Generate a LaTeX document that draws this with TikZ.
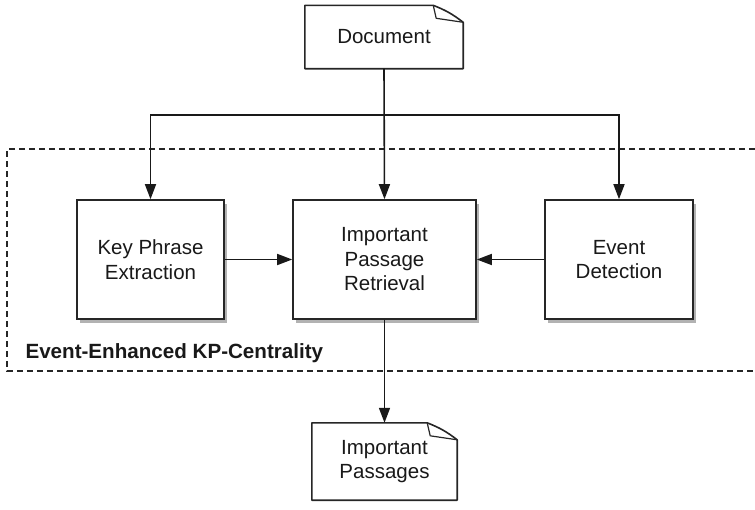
\documentclass[tikz,border=0pt]{standalone}
\usepackage{fontspec}
\setmainfont{Liberation Sans}
\usetikzlibrary{arrows.meta,shadows,backgrounds}
\begin{document}
\begin{tikzpicture}[x=1pt,y=1pt,
  every node/.style={font=\fontsize{20.5}{24.5}\selectfont,text=black!90},
  procbox/.style={draw=black!85,line width=1.6pt,fill=white,align=center,inner sep=0pt,
    drop shadow={shadow xshift=2.5pt,shadow yshift=-3.5pt,opacity=.3,fill=black}},
  docbox/.style={draw=none,align=center,inner sep=0pt},
  arr/.style={line width=1.6pt,draw=black!90,-{Triangle[length=15pt,width=11pt]}},
  region/.style={line width=1.2pt,draw=black!85,dash pattern=on 6pt off 4pt}]
\useasboundingbox (0,0) rectangle (755,-509);
% region
\draw[region] (755,-149) -- (7,-149) -- (7,-371) -- (755,-371);
\node[anchor=base west,font=\fontsize{20.6}{24}\selectfont\bfseries] (lbl) at (22,-358) {Event-Enhanced KP-Centrality};
% nodes
\node[docbox,minimum width=158pt,minimum height=63pt] (doc) at (384,-37) {Document};
\node[procbox,minimum width=147pt,minimum height=119pt] (kp) at (150.5,-259.5) {Key Phrase\\Extraction};
\node[procbox,minimum width=183pt,minimum height=119pt] (ipr) at (384.5,-259.5) {Important\\Passage\\Retrieval};
\node[procbox,minimum width=148pt,minimum height=119pt] (ed) at (619,-259.5) {Event\\Detection};
\node[docbox,minimum width=145pt,minimum height=77pt] (ip) at (384.5,-461.5) {Important\\Passages};
% document shapes
\begin{scope}[on background layer]
\foreach \n in {doc,ip} {
  \fill[black,opacity=.3,shift={(2.5pt,-3.5pt)}] (\n.north west) -- ([xshift=-30pt]\n.north east) -- ([yshift=-17pt]\n.north east) -- (\n.south east) -- (\n.south west) -- cycle;
  \draw[line width=1.6pt,draw=black!85,fill=white,line join=round] (\n.north west) -- ([xshift=-30pt]\n.north east) to[bend left=8] ([yshift=-17pt]\n.north east) -- (\n.south east) -- (\n.south west) -- cycle;
  \draw[line width=1.2pt,draw=black!85,line join=round] ([xshift=-30pt]\n.north east) -- ([xshift=-27pt,yshift=-13pt]\n.north east) -- ([yshift=-17pt]\n.north east);
}
\end{scope}
% connectors
\coordinate (j) at (doc.south |- 0,-115);
\draw[arr] (doc.south) -- (ipr.north);
\draw[arr] (j) -| (kp.north);
\draw[arr] (j) -| (ed.north);
\draw[arr] (kp.east) -- (ipr.west);
\draw[arr] (ed.west) -- (ipr.east);
\draw[arr] (ipr.south) -- (ip.north);
\end{tikzpicture}
\end{document}
